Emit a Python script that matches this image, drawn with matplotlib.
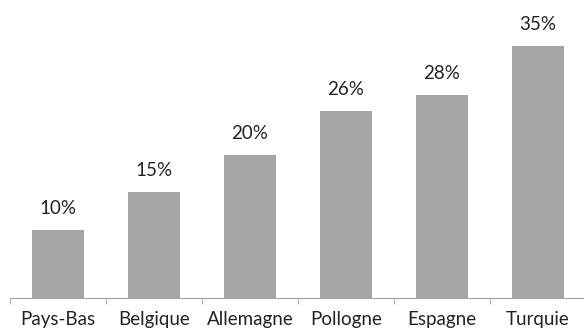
import numpy as np
import matplotlib.pyplot as plt

pays = ["Pays-Bas", "Belgique", "Allemagne", "Pollogne", "Espagne", "Turquie"]
valeurs = [9.5, 14.7, 19.9, 25.9, 28.1, 35.0]
etiquettes = ["10%", "15%", "20%", "26%", "28%", "35%"]

plt.rcParams['font.family'] = ['Lato', 'DejaVu Sans']

fig = plt.figure(figsize=(5.84, 3.33), dpi=100)
ax = fig.add_axes([10/584, 35/333, 576/584, 298/333])

x = np.arange(len(pays))
bars = ax.bar(x, valeurs, width=0.55, color="#a6a6a6")
for b, lab in zip(bars, etiquettes):
    ax.annotate(lab, (b.get_x() + b.get_width()/2, b.get_height()),
                xytext=(0, 11.5), textcoords="offset points",
                ha="center", va="baseline", fontsize=13.5, color="#222222")

ax.set_xlim(-0.5, 5.5)
ax.set_ylim(0, 298/7.21)
ax.set_xticks(x)
ax.set_xticklabels(pays, fontsize=13.5, color="#222222")
ax.set_xticks(np.arange(-0.5, 6, 1), minor=True)
ax.tick_params(axis="x", which="major", length=0, pad=9)
ax.tick_params(axis="x", which="minor", length=4, color="#a0a0a0")
ax.set_yticks([])
for s in ["top", "right", "left"]:
    ax.spines[s].set_visible(False)
ax.spines["bottom"].set_color("#a0a0a0")

fig.savefig("out.png", dpi=100)
